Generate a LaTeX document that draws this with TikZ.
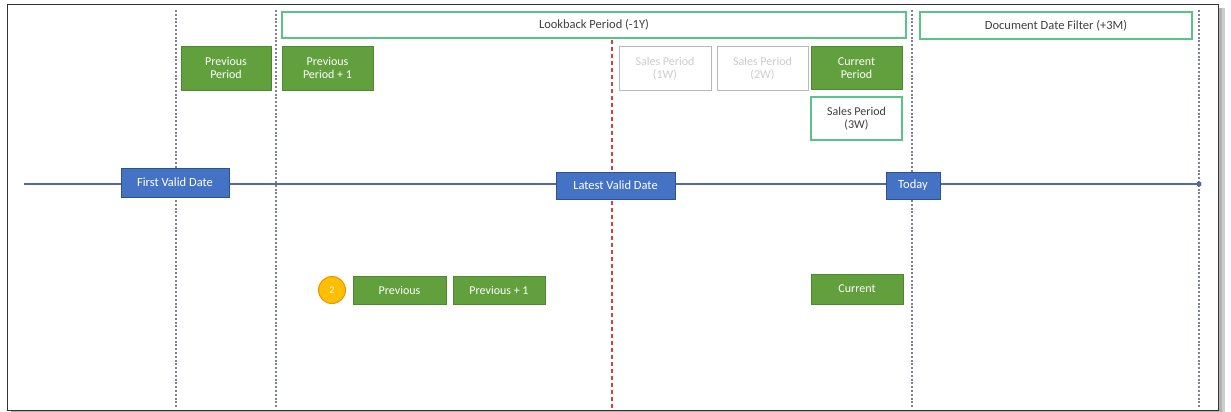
\documentclass[tikz,border=0pt]{standalone}
\usepackage{fontspec}
\setmainfont{Carlito}
\definecolor{boxgreen}{RGB}{98,160,62}
\definecolor{boxgreenb}{RGB}{80,135,50}
\definecolor{boxblue}{RGB}{68,114,196}
\definecolor{boxblueb}{RGB}{47,82,143}
\definecolor{tealgreen}{RGB}{90,195,135}
\definecolor{fadegray}{RGB}{185,185,185}
\definecolor{fadetext}{RGB}{205,205,205}
\definecolor{guidegray}{RGB}{125,130,155}
\definecolor{timeline}{RGB}{85,105,165}
\definecolor{guidered}{RGB}{225,60,60}
\definecolor{coin}{RGB}{255,190,0}
\definecolor{coinb}{RGB}{235,150,0}
\tikzset{
  greenbox/.style={draw=boxgreenb, fill=boxgreen, text=white, line width=0.8pt, align=center, inner sep=0pt, font=\fontsize{12}{13}\selectfont},
  bluebox/.style={draw=boxblueb, fill=boxblue, text=white, line width=0.8pt, align=center, inner sep=0pt, font=\fontsize{12.5}{14}\selectfont},
  rangebox/.style={draw=tealgreen, fill=white, line width=1.6pt, align=center, inner sep=0pt, text=black!75, font=\fontsize{12.5}{14}\selectfont},
  fadebox/.style={draw=fadegray, fill=white, line width=1pt, align=center, inner sep=0pt, text=fadetext, font=\fontsize{12}{13}\selectfont},
  guide/.style={draw=guidegray, line width=1.2pt, dash pattern=on 2pt off 1.8pt},
  redguide/.style={draw=guidered, line width=1.2pt, dash pattern=on 4pt off 3pt},
}
\begin{document}
\begin{tikzpicture}[x=1pt,y=-1pt]
\useasboundingbox (0,0) rectangle (1231,412);
% frame with shadow
\fill[black!20] (11,8) rectangle (1225,414);
\fill[black!30] (11,8) rectangle (1222,412);
\draw[black!80, fill=white, line width=0.8pt] (7,4) rectangle (1218,410);
% guide lines
\coordinate (g1t) at (176,10); \coordinate (g1b) at (176,408);
\coordinate (g2t) at (276,10); \coordinate (g2b) at (276,408);
\coordinate (g3t) at (912,10); \coordinate (g3b) at (912,408);
\coordinate (g4t) at (1199,10); \coordinate (g4b) at (1199,408);
\coordinate (rt) at (612,40); \coordinate (rb) at (612,408);
\draw[guide] (g1t) -- (g1b);
\draw[guide] (g2t) -- (g2b);
\draw[guide] (g3t) -- (g3b);
\draw[guide] (g4t) -- (g4b);
\draw[redguide] (rt) -- (rb);
% timeline
\coordinate (tls) at (24,184);
\coordinate (tle) at (1199,184);
\draw[timeline, line width=1.2pt] (tls) -- (tle);
\fill[timeline] (tle) circle (2.5pt);
% top ranges
\node[rangebox, minimum width=624pt, minimum height=26pt] (lookback) at (594,25) {Lookback Period (-1Y)};
\node[rangebox, minimum width=272pt, minimum height=27pt] (docfilter) at (1056,25.5) {Document Date Filter (+3M)};
% period boxes
\node[greenbox, minimum width=90pt, minimum height=44pt] (prevperiod) at (226,68) {Previous\\Period};
\node[greenbox, minimum width=91pt, minimum height=44pt] (prevperiodone) at (327.5,68) {Previous\\Period + 1};
\node[fadebox, minimum width=92pt, minimum height=43pt] (salesone) at (665,68.5) {Sales Period\\(1W)};
\node[fadebox, minimum width=91pt, minimum height=43pt] (salestwo) at (762.5,68.5) {Sales Period\\(2W)};
\node[greenbox, minimum width=91pt, minimum height=43pt] (curperiod) at (856.5,68) {Current\\Period};
\node[rangebox, minimum width=91pt, minimum height=43pt, line width=1.4pt, font=\fontsize{12}{13}\selectfont] (salesthree) at (856.5,118.5) {Sales Period\\(3W)};
% dates
\node[bluebox, minimum width=108pt, minimum height=29pt] (firstvalid) at (175,182.5) {First Valid Date};
\node[bluebox, minimum width=119pt, minimum height=27pt] (latestvalid) at (615.5,185.5) {Latest Valid Date};
\node[bluebox, minimum width=54pt, minimum height=27pt] (today) at (913,185.5) {Today};
% bottom row
\node[circle, draw=coinb, fill=coin, line width=1pt, minimum size=27pt, inner sep=0pt, text=white, font=\fontsize{10}{11}\selectfont] (step2) at (332,290) {2};
\node[greenbox, minimum width=93pt, minimum height=28pt] (previous) at (399.5,290) {Previous};
\node[greenbox, minimum width=92pt, minimum height=28pt] (previousone) at (499,290) {Previous + 1};
\node[greenbox, minimum width=92pt, minimum height=30pt] (current) at (857,289) {Current};
\end{tikzpicture}
\end{document}
